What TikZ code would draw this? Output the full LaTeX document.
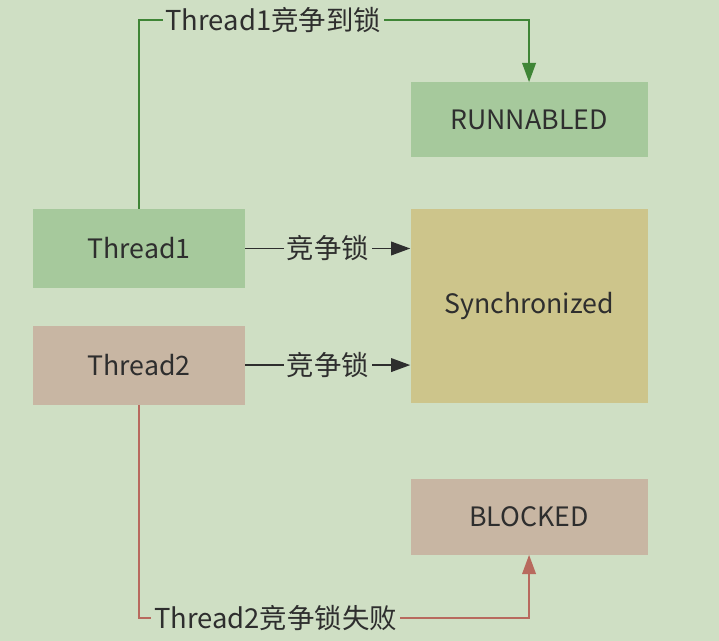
\documentclass[tikz,border=0pt]{standalone}
\usepackage{fontspec}
\setmainfont{Noto Sans CJK SC}
\usetikzlibrary{arrows.meta, positioning}

\definecolor{bgcol}{HTML}{CFDFC4}
\definecolor{greenbox}{HTML}{A6C99C}
\definecolor{pinkbox}{HTML}{C8B6A3}
\definecolor{olivebox}{HTML}{CDC58B}
\definecolor{greenline}{HTML}{3F8536}
\definecolor{redline}{HTML}{B86A5E}
\definecolor{txt}{HTML}{2E2E2E}

\begin{document}
\begin{tikzpicture}[
  state/.style={align=center, inner sep=0pt, text=txt,
                font=\fontsize{19}{22}\selectfont},
  lbl/.style={fill=bgcol, inner sep=2pt, text=txt,
              font=\fontsize{19.5}{22}\selectfont},
  garr/.style={-{Triangle[length=4.8mm, width=3.4mm]}, line width=1.3pt, greenline},
  rarr/.style={-{Triangle[length=4.8mm, width=3.4mm]}, line width=1.3pt, redline},
  barr/.style={-{Triangle[length=4.8mm, width=3.4mm]}, line width=1.3pt, txt}
]
\fill[bgcol] (0,0) rectangle (17.975,-16.025);
\useasboundingbox (0,0) rectangle (17.975,-16.025);

% threads
\node[state, fill=greenbox, minimum width=5.3cm, minimum height=1.975cm]
  (t1) at (3.475,-6.2125) {Thread1};
\node[state, fill=pinkbox, minimum width=5.3cm, minimum height=1.975cm,
  below=0.925cm of t1] (t2) {Thread2};

% monitor and states
\node[state, fill=olivebox, minimum width=5.925cm, minimum height=4.85cm,
  right=4.125cm of t1.north east, anchor=north west] (sync) {Synchronized};
\node[state, fill=greenbox, minimum width=5.925cm, minimum height=1.875cm,
  above=1.275cm of sync] (run) {RUNNABLED};
\node[state, fill=pinkbox, minimum width=5.925cm, minimum height=1.9cm,
  below=1.875cm of sync] (blk) {BLOCKED};

\coordinate (top) at (t1.north |- 0,-0.5);
\coordinate (bot) at (t2.south |- 0,-15.45);

\draw[barr] (t1) -- node[lbl]{竞争锁} (t1 -| sync.west);
\draw[barr] (t2) -- node[lbl]{竞争锁} (t2 -| sync.west);
\draw[garr] (t1.north) -- (top) -| node[lbl, pos=0.172]{Thread1竞争到锁} (run.north);
\draw[rarr] (t2.south) -- (bot) -| node[lbl, pos=0.175]{Thread2竞争锁失败} (blk.south);
\end{tikzpicture}
\end{document}
